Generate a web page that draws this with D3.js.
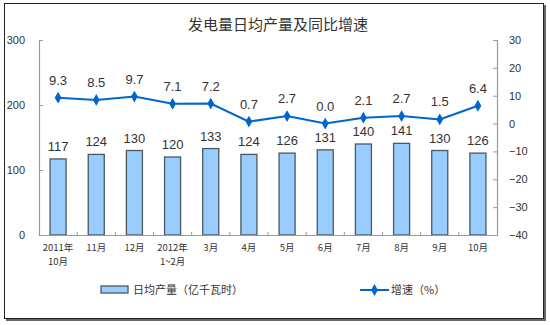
<!DOCTYPE html>
<html>
<head>
<meta charset="utf-8">
<script src="https://cdn.jsdelivr.net/npm/d3@7"></script>
<style>
  html, body { margin: 0; padding: 0; background: #fff; }
  svg { display: block; font-family: "Liberation Sans", Arial, "Noto Sans CJK SC", sans-serif; }
</style>
</head>
<body>
<svg id="chart" width="550" height="325"></svg>
<script>
// Monthly categories (two-line labels split on "\n")
const categories = ["2011年\n10月", "11月", "12月", "2012年\n1~2月", "3月", "4月", "5月", "6月", "7月", "8月", "9月", "10月"];
// Average daily generation, 100 million kWh
const dailyOutput = [117, 124, 130, 120, 133, 124, 126, 131, 140, 141, 130, 126];
// Year-on-year growth, %
const growthRate = [9.3, 8.5, 9.7, 7.1, 7.2, 0.7, 2.7, 0.0, 2.1, 2.7, 1.5, 6.4];
const leftTicks = [0, 100, 200, 300];
const rightTicks = [-40, -30, -20, -10, 0, 10, 20, 30];

const svg = d3.select("#chart");
const plot = { left: 39, right: 497, top: 40, bottom: 235 };
const cjk = '"Noto Sans CJK SC", "Liberation Sans", sans-serif';

// Outer frame with a slight shadow on the bottom/right
svg.append("rect").attr("x", 6).attr("y", 5).attr("width", 540).attr("height", 316).attr("fill", "#666");
svg.append("rect").attr("x", 4.5).attr("y", 3.5).attr("width", 539).attr("height", 315)
  .attr("fill", "#fff").attr("stroke", "#222").attr("stroke-width", 1);

// Title
svg.append("text").attr("x", 278).attr("y", 30).attr("text-anchor", "middle")
  .style("font-family", cjk).style("font-size", "15px").attr("fill", "#333")
  .text("发电量日均产量及同比增速");

const x = d3.scaleBand().domain(categories).range([plot.left, plot.right]).paddingInner(0).paddingOuter(0);
const yL = d3.scaleLinear().domain([0, 300]).range([plot.bottom, plot.top]);
const yR = d3.scaleLinear().domain([-40, 30]).range([plot.bottom, plot.top]);
const barW = x.bandwidth() * 0.42;

// Bars
svg.append("g").selectAll("rect").data(dailyOutput).join("rect")
  .attr("x", (d, i) => x(categories[i]) + (x.bandwidth() - barW) / 2)
  .attr("y", d => yL(d))
  .attr("width", barW)
  .attr("height", d => yL(0) - yL(d))
  .attr("fill", "#99CCFF").attr("stroke", "#4a5a60").attr("stroke-width", 1.3);

// Left axis
const axisL = svg.append("g").attr("transform", `translate(${plot.left},0)`)
  .call(d3.axisLeft(yL).tickValues(leftTicks).tickSize(-4).tickPadding(14));
// Right axis
const axisR = svg.append("g").attr("transform", `translate(${plot.right},0)`)
  .call(d3.axisRight(yR).tickValues(rightTicks).tickSize(-4).tickPadding(12));
// Bottom axis: ticks on category boundaries pointing up
const axisB = svg.append("g").attr("transform", `translate(0,${plot.bottom})`)
  .call(d3.axisBottom(x).tickValues([]).tickSizeOuter(0));
axisB.selectAll(".boundary").data(categories.slice(1)).join("line")
  .attr("x1", d => x(d)).attr("x2", d => x(d)).attr("y1", 0).attr("y2", -3)
  .attr("stroke", "#999");

[axisL, axisR, axisB].forEach(g => {
  g.select(".domain").attr("stroke", "#999").attr("stroke-width", 1.2);
  g.selectAll(".tick line").attr("stroke", "#999");
  g.selectAll(".tick text").attr("fill", "#333").style("font-size", "11px")
    .style("font-family", '"Liberation Sans", Arial, sans-serif');
});
axisL.selectAll(".tick text").attr("text-anchor", "end");

// Category labels
const xl = svg.append("g").selectAll("text").data(categories).join("text")
  .attr("x", d => x(d) + x.bandwidth() / 2)
  .attr("y", 251)
  .attr("text-anchor", "middle")
  .style("font-family", cjk).style("font-size", "9.5px").attr("fill", "#333");
xl.each(function(d) {
  d.split("\n").forEach((s, k) => {
    d3.select(this).append("tspan").attr("x", x(d) + x.bandwidth() / 2).attr("dy", k ? 14 : 0).text(s);
  });
});

// Bar value labels
svg.append("g").selectAll("text").data(dailyOutput).join("text")
  .attr("x", (d, i) => x(categories[i]) + x.bandwidth() / 2)
  .attr("y", d => yL(d) - 8)
  .attr("text-anchor", "middle").style("font-size", "13px").attr("fill", "#333")
  .text(d => d);

// Growth line
const line = d3.line().x((d, i) => x(categories[i]) + x.bandwidth() / 2).y(d => yR(d));
svg.append("path").datum(growthRate).attr("d", line)
  .attr("fill", "none").attr("stroke", "#0066CC").attr("stroke-width", 2);
const diamond = d3.symbol().type(d3.symbolDiamond).size(40);
svg.append("g").selectAll("path").data(growthRate).join("path")
  .attr("transform", (d, i) => `translate(${x(categories[i]) + x.bandwidth() / 2},${yR(d)})`)
  .attr("d", diamond).attr("fill", "#0066CC");
svg.append("g").selectAll("text").data(growthRate).join("text")
  .attr("x", (d, i) => x(categories[i]) + x.bandwidth() / 2)
  .attr("y", d => yR(d) - 13)
  .attr("text-anchor", "middle").style("font-size", "13px").attr("fill", "#333")
  .text(d => d.toFixed(1));

// Legend
const lg = svg.append("g");
lg.append("rect").attr("x", 101).attr("y", 286).attr("width", 27).attr("height", 7)
  .attr("fill", "#99CCFF").attr("stroke", "#4a5a60").attr("stroke-width", 1.3);
lg.append("text").attr("x", 133).attr("y", 294).style("font-family", cjk).style("font-size", "11px")
  .attr("fill", "#333").text("日均产量（亿千瓦时）");
lg.append("line").attr("x1", 360).attr("x2", 389).attr("y1", 290).attr("y2", 290)
  .attr("stroke", "#0066CC").attr("stroke-width", 2);
lg.append("path").attr("transform", "translate(374.5,290)").attr("d", diamond).attr("fill", "#0066CC");
lg.append("text").attr("x", 391).attr("y", 294).style("font-family", cjk).style("font-size", "11px")
  .attr("fill", "#333").text("增速（%）");
</script>
</body>
</html>
